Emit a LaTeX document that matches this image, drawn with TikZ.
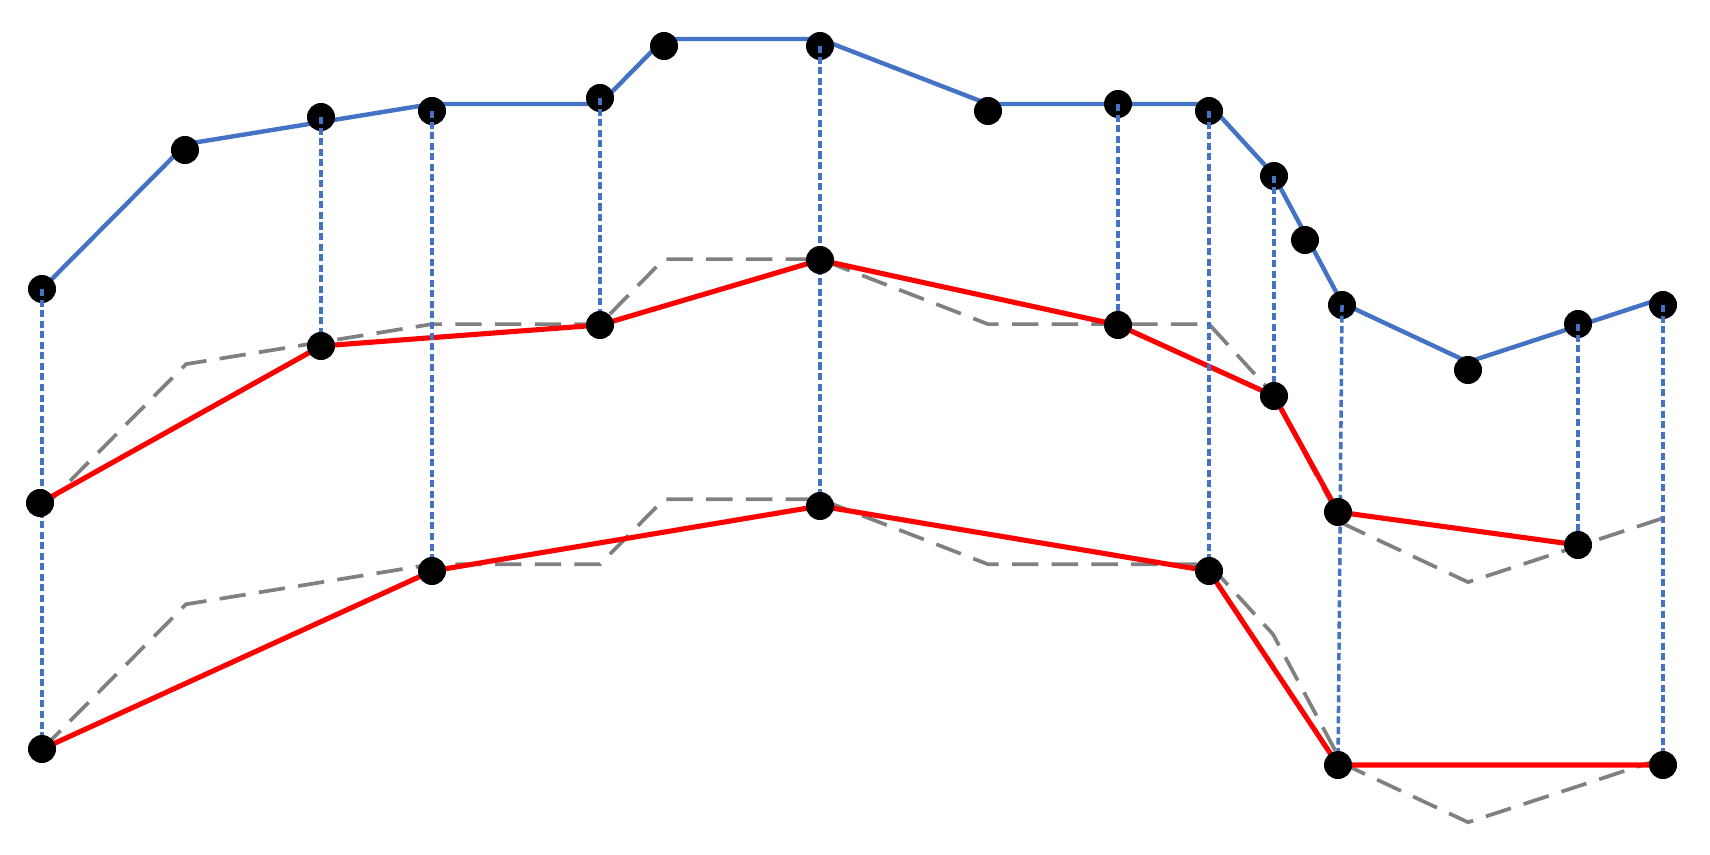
\documentclass[tikz,border=0pt]{standalone}
\definecolor{obl}{HTML}{4472C4}
\definecolor{ogr}{HTML}{808080}
\begin{document}
\begin{tikzpicture}[x=0.01cm,y=-0.01cm,
  dot/.style={circle,fill=black,inner sep=0pt,minimum size=0.28cm},
  blueline/.style={draw=obl,line width=1.25pt,line join=round},
  redline/.style={draw=red,line width=1.45pt,line join=round},
  graydash/.style={draw=ogr,line width=1.05pt,dash pattern=on 7.5pt off 3.8pt},
  vdot/.style={draw=obl,line width=1pt,dash pattern=on 2pt off 1pt}]
\useasboundingbox[fill=white] (0,0) rectangle (1710,855);

% vertices of the blue profile line
\coordinate (l1) at (42,289);
\coordinate (l2) at (186,144);
\coordinate (l4) at (432,104);
\coordinate (l5) at (600,104);
\coordinate (l6) at (664,39);
\coordinate (l7) at (820,39);
\coordinate (l8) at (988,104);
\coordinate (l10) at (1209,104);
\coordinate (l11) at (1273,174);
\coordinate (l13) at (1342,303);
\coordinate (l14) at (1468,362);
\coordinate (l15) at (1578,326);
\coordinate (l16) at (1663,298);

% gray dashed copies
\foreach \s in {2.2,4.6}{
  \draw[graydash] ([yshift=-\s cm]l1) -- ([yshift=-\s cm]l2) -- ([yshift=-\s cm]l4)
    -- ([yshift=-\s cm]l5) -- ([yshift=-\s cm]l6) -- ([yshift=-\s cm]l7)
    -- ([yshift=-\s cm]l8) -- ([yshift=-\s cm]l10) -- ([yshift=-\s cm]l11)
    -- ([yshift=-\s cm]l13) -- ([yshift=-\s cm]l14) -- ([yshift=-\s cm]l15)
    -- ([yshift=-\s cm]l16);
}

% blue line
\draw[blueline] (l1) -- (l2) -- (l4) -- (l5) -- (l6) -- (l7) -- (l8) -- (l10)
  -- (l11) -- (l13) -- (l14) -- (l15) -- (l16);

% middle and lower dots (positions)
\coordinate (m1c) at (40,503);
\coordinate (m3c) at (321,346);
\coordinate (m5c) at (600,325);
\coordinate (m7c) at (820,260);
\coordinate (m9c) at (1118,325);
\coordinate (m11c) at (1274,396);
\coordinate (m13c) at (1338,512);
\coordinate (m15c) at (1578,545);
\coordinate (b1c) at (42,749);
\coordinate (b4c) at (432,571);
\coordinate (b7c) at (820,506);
\coordinate (b10c) at (1209,571);
\coordinate (b13c) at (1338,765);
\coordinate (b16c) at (1663,765);

% red lines
\draw[redline] (m1c) -- (m3c) -- (m5c) -- (m7c) -- (m9c) -- (m11c) -- (m13c) -- (m15c);
\draw[redline] (b1c) -- (b4c) -- (b7c) -- (b10c) -- (b13c) -- (b16c);

% top dots
\node[dot] (d1) at (42,289) {};
\node[dot] (d2) at (185,150) {};
\node[dot] (d3) at (321,117) {};
\node[dot] (d4) at (432,111) {};
\node[dot] (d5) at (600,98) {};
\node[dot] (d6) at (664,46) {};
\node[dot] (d7) at (820,46) {};
\node[dot] (d8) at (988,111) {};
\node[dot] (d9) at (1118,104) {};
\node[dot] (d10) at (1209,111) {};
\node[dot] (d11) at (1274,176) {};
\node[dot] (d12) at (1305,240) {};
\node[dot] (d13) at (1342,305) {};
\node[dot] (d14) at (1468,370) {};
\node[dot] (d15) at (1578,324) {};
\node[dot] (d16) at (1663,305) {};

% vertical dotted lines
\draw[vdot] (d1.center) -- (b1c);
\draw[vdot] (d3.center) -- (m3c);
\draw[vdot] (d4.center) -- (b4c);
\draw[vdot] (d5.center) -- (m5c);
\draw[vdot] (d7.center) -- (b7c);
\draw[vdot] (d9.center) -- (m9c);
\draw[vdot] (d10.center) -- (b10c);
\draw[vdot] (d11.center) -- (m11c);
\draw[vdot] (d13.center) -- (b13c);
\draw[vdot] (d15.center) -- (m15c);
\draw[vdot] (d16.center) -- (b16c);

% middle and lower dots
\node[dot] (m1) at (m1c) {};
\node[dot] (m3) at (m3c) {};
\node[dot] (m5) at (m5c) {};
\node[dot] (m7) at (m7c) {};
\node[dot] (m9) at (m9c) {};
\node[dot] (m11) at (m11c) {};
\node[dot] (m13) at (m13c) {};
\node[dot] (m15) at (m15c) {};
\node[dot] (b1) at (b1c) {};
\node[dot] (b4) at (b4c) {};
\node[dot] (b7) at (b7c) {};
\node[dot] (b10) at (b10c) {};
\node[dot] (b13) at (b13c) {};
\node[dot] (b16) at (b16c) {};
\end{tikzpicture}
\end{document}
